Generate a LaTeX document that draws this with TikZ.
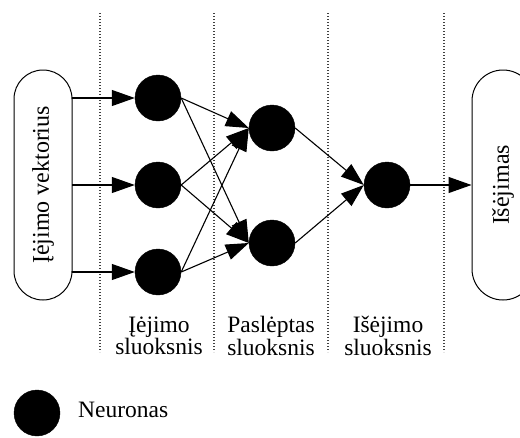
\documentclass[tikz,border=0pt]{standalone}
\usepackage{fontspec}
\setmainfont{Liberation Serif}
\usetikzlibrary{arrows.meta}
\tikzset{
  neuron/.style={circle, fill=black, draw=black, minimum size=46pt, inner sep=0pt},
  iobox/.style={draw=black, line width=1pt, rounded corners=29pt, minimum width=58pt, minimum height=230pt, inner sep=0pt},
  conn/.style={line width=1.1pt, -{Triangle[length=23pt, width=16pt]}},
  sep/.style={line width=1.3pt, draw=black!75, dash pattern=on 1.3pt off 1.7pt},
  lbl/.style={font=\fontsize{23.5}{20}\selectfont, align=center, inner sep=0pt},
  rlbl/.style={font=\fontsize{24}{24}\selectfont, rotate=90, inner sep=0pt}
}
\begin{document}
\begin{tikzpicture}[x=1pt, y=-1pt]
\useasboundingbox (0,0) rectangle (520,437);
\clip (0,0) rectangle (520,437);
% separators
\foreach \x/\n in {100/s1, 214/s2, 328/s3, 444/s4} {
  \coordinate (\n t) at (\x,13);
  \coordinate (\n b) at (\x,352);
  \draw[sep] (\n t) -- (\n b);
}
% boxes
\node[iobox] (inbox) at (43,185) {};
\node[rlbl] (intext) at (inbox.center) {Įėjimo vektorius};
\node[iobox, minimum width=62pt, rounded corners=31pt] (outbox) at (503,185) {};
\node[rlbl] (outtext) at (503,185) {Išėjimas};
% neurons
\node[neuron] (i1) at (158,98) {};
\node[neuron] (i2) at (158,185) {};
\node[neuron] (i3) at (158,272) {};
\node[neuron] (h1) at (272,128) {};
\node[neuron] (h2) at (272,243) {};
\node[neuron] (o1) at (387,185) {};
% box to input neurons
\coordinate (b1) at (72,98);
\coordinate (b2) at (72,185);
\coordinate (b3) at (72,272);
\draw[conn] (b1) -- (i1.west);
\draw[conn] (b2) -- (i2.west);
\draw[conn] (b3) -- (i3.west);
% input to hidden
\foreach \i in {i1,i2,i3} {
  \draw[conn] (\i.east) -- (h1.west);
  \draw[conn] (\i.east) -- (h2.west);
}
% hidden to output
\draw[conn] (h1.east) -- (o1.west);
\draw[conn] (h2.east) -- (o1.west);
\draw[conn] (o1.east) -- (outbox.west);
% layer labels
\node[lbl] (l1) at (159,336) {Įėjimo\\sluoksnis};
\node[lbl] (l2) at (271,336) {Paslėptas\\sluoksnis};
\node[lbl] (l3) at (388,336) {Išėjimo\\sluoksnis};
% legend
\node[neuron] (leg) at (37,413) {};
\node[lbl, anchor=west] (legtext) at (78,410) {Neuronas};
\end{tikzpicture}
\end{document}
